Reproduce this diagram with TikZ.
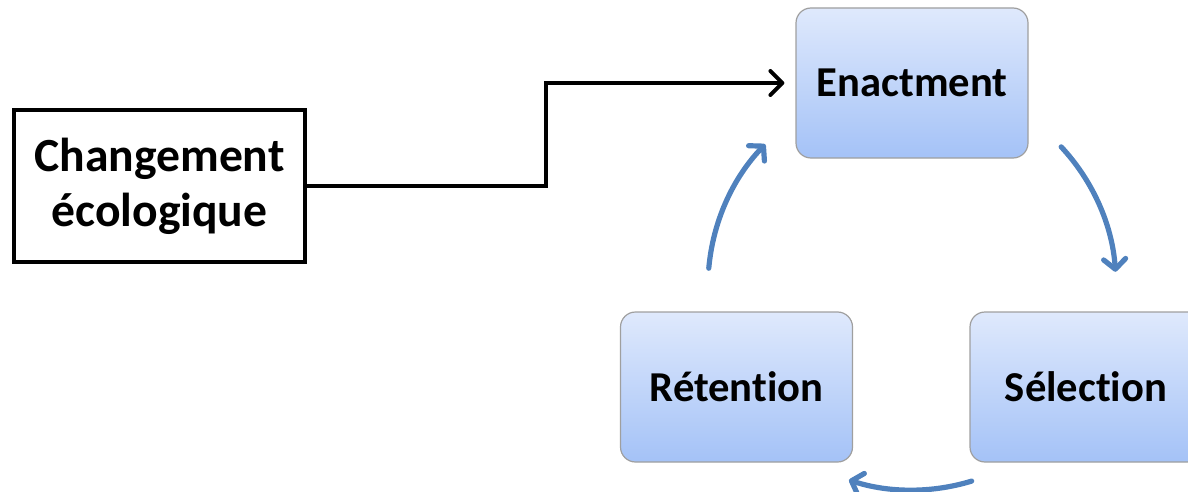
\documentclass[tikz,border=0pt]{standalone}
\usepackage{fontspec}
\setmainfont{Carlito}[Ligatures=NoCommon]
\usetikzlibrary{arrows.meta}
\definecolor{cycleblue}{HTML}{4F81BD}
\definecolor{boxtop}{HTML}{DFE9FC}
\definecolor{boxbottom}{HTML}{A4C2F7}
\begin{document}
\begin{tikzpicture}[x=0.5pt, y=-0.5pt]
        \tikzstyle{every node}=[font=\fontsize{21.3}{26}\selectfont\bfseries, align=center]
        \tikzstyle{phase}=[rounded corners=7.5pt, draw=gray!75, line width=0.6pt, top color=boxtop, bottom color=boxbottom, minimum width=116pt, minimum height=75pt]
        \tikzstyle{cause}=[draw=black, line width=2pt, minimum width=145.5pt, minimum height=76pt, font=\fontsize{23.8}{27.5}\selectfont\bfseries]
        \tikzstyle{loop}=[draw=cycleblue, line width=2.6pt, line cap=round, -{Straight Barb[length=5pt, width=11pt, line cap=round, line join=round]}]
        \useasboundingbox (0,0) rectangle (1188,492);
        \clip (0,0) rectangle (1188,492);
        \node [cause] (chg) at (159.5,186) {Changement\\écologique};
        \node [phase] (enact) at (912,83) {Enactment};
        \node [phase] (sel) at (1086,387) {Sélection};
        \node [phase] (ret) at (736.5,387) {Rétention};
        \coordinate (elbow) at (546,0);
        \coordinate (hub) at (912,286);
        \draw [line width=2pt, shorten >=5.5pt, -{Straight Barb[length=6pt, width=12pt, line cap=round, line join=round]}] (chg.east) -- (chg.east -| elbow) |- (enact.west);
        \draw [loop] (hub) ++(43:102pt) arc [start angle=43, end angle=4, radius=102pt];
        \draw [loop] (hub) ++(-73:102pt) arc [start angle=-73, end angle=-108, radius=102pt];
        \draw [loop] (hub) ++(175:102pt) arc [start angle=175, end angle=136, radius=102pt];
\end{tikzpicture}
\end{document}
